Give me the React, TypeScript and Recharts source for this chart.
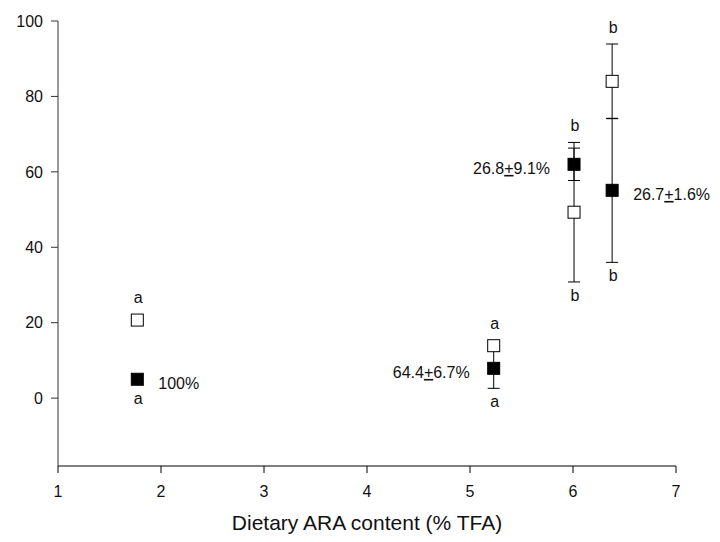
import React from "react"
import { ScatterChart, Scatter, XAxis, YAxis, ErrorBar, LabelList } from "recharts"

// dietary ARA content (% TFA) of each diet
const araContent = [1.77, 5.23, 6.01, 6.38]

// open squares
const openValues = [20.7, 13.9, 49.3, 84.0]
const openErrors = [null, null, 18.5, 9.9]

// filled squares
const filledValues = [5.0, 7.9, 62.0, 55.1]
const filledErrors = [null, 5.3, 4.3, 19.1]

const lettersAbove = ["a", "a", "b", "b"]
const lettersBelow = ["a", "a", "b", "b"]
const filledLabels = ["100%", "64.4±6.7%", "26.8±9.1%", "26.7±1.6%"]
const labelSide = ["right", "left", "left", "right"]

const xTicks = [1, 2, 3, 4, 5, 6, 7]
const yTicks = [0, 20, 40, 60, 80, 100]

const FONT = "'Liberation Sans', Arial, sans-serif"
const HALF = 6

const filledData = araContent.map((x, i) => ({ x, y: filledValues[i], err: filledErrors[i] }))
const openData = araContent.map((x, i) => ({ x, y: openValues[i], err: openErrors[i] }))

// top / bottom extents of each group, for the significance letters
const topData = araContent.map((x, i) => {
  const a = openValues[i] + (openErrors[i] ?? 0)
  const b = filledValues[i] + (filledErrors[i] ?? 0)
  const fromOpen = a >= b
  return { x, y: Math.max(a, b), bare: fromOpen ? openErrors[i] == null : filledErrors[i] == null, text: lettersAbove[i] }
})
const bottomData = araContent.map((x, i) => {
  const a = openValues[i] - (openErrors[i] ?? 0)
  const b = filledValues[i] - (filledErrors[i] ?? 0)
  const fromOpen = a <= b
  return { x, y: Math.min(a, b), bare: fromOpen ? openErrors[i] == null : filledErrors[i] == null, text: lettersBelow[i] }
})

const square = (fill: string) => (props: any) => {
  const { cx, cy } = props
  return <rect x={cx - HALF} y={cy - HALF} width={HALF * 2} height={HALF * 2} fill={fill} stroke="#000" strokeWidth={1} />
}

const letterAbove = (props: any) => {
  const { cx, cy, payload } = props
  const y = cy - (payload.bare ? HALF : 0) - 11
  return (
    <text x={cx + 1} y={y} textAnchor="middle" fontSize={16} fontFamily={FONT} fill="#111">
      {payload.text}
    </text>
  )
}

const letterBelow = (props: any) => {
  const { cx, cy, payload } = props
  const y = cy + (payload.bare ? HALF : 0) + 19
  return (
    <text x={cx + 1} y={y} textAnchor="middle" fontSize={16} fontFamily={FONT} fill="#111">
      {payload.text}
    </text>
  )
}

const percentLabel = (props: any) => {
  const { x, y, width, height, index } = props
  const cx = x + width / 2
  const cy = y + height / 2
  const side = labelSide[index]
  const parts = filledLabels[index].split("±")
  return (
    <text
      x={side === "right" ? cx + 21 : cx - 24}
      y={cy + 4}
      dy="0.35em"
      textAnchor={side === "right" ? "start" : "end"}
      fontSize={16}
      fontFamily={FONT}
      fill="#111"
    >
      {parts.length > 1 ? (
        <>
          <tspan>{parts[0]}</tspan>
          <tspan textDecoration="underline">+</tspan>
          <tspan>{parts[1]}</tspan>
        </>
      ) : (
        parts[0]
      )}
    </text>
  )
}

export default function App() {
  return (
    <div style={{ width: 712, height: 534 }}>
      <ScatterChart width={712} height={534} margin={{ top: 13, right: 44, bottom: 36, left: 5 }}>
        <XAxis
          type="number"
          dataKey="x"
          domain={[1, 7]}
          ticks={xTicks}
          interval={0}
          height={40}
          tickSize={7}
          tickMargin={13}
          stroke="#000"
          tick={{ fill: "#111", fontSize: 16, fontFamily: FONT }}
          label={{
            value: "Dietary ARA content (% TFA)",
            position: "bottom",
            offset: 9,
            fill: "#111",
            fontSize: 21,
            fontFamily: FONT,
          }}
        />
        <YAxis
          type="number"
          dataKey="y"
          domain={[-18, 100]}
          ticks={yTicks}
          interval={0}
          allowDataOverflow
          width={45}
          tickSize={7}
          tickMargin={8}
          stroke="#333"
          tick={{ fill: "#111", fontSize: 16, fontFamily: FONT }}
        />
        <Scatter data={filledData} shape={square("#000")} isAnimationActive={false}>
          <ErrorBar dataKey="err" direction="y" width={6} stroke="#000" strokeWidth={1} />
          <LabelList dataKey="y" content={percentLabel} />
        </Scatter>
        <Scatter data={openData} shape={square("#fff")} isAnimationActive={false}>
          <ErrorBar dataKey="err" direction="y" width={6} stroke="#000" strokeWidth={1} />
        </Scatter>
        <Scatter data={topData} shape={letterAbove} isAnimationActive={false} />
        <Scatter data={bottomData} shape={letterBelow} isAnimationActive={false} />
      </ScatterChart>
    </div>
  )
}
